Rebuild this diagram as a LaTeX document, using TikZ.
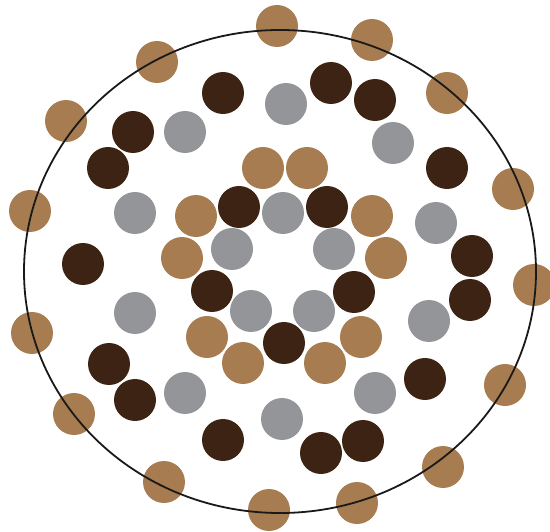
\documentclass[tikz,border=0pt]{standalone}
\usepackage{xcolor}
\usepackage{tikz}
\definecolor{tan}{HTML}{A77C50}
\definecolor{darkbrown}{HTML}{3C2314}
\definecolor{greydot}{HTML}{939598}
\begin{document}
\begin{tikzpicture}[x=1pt,y=-1pt]
\useasboundingbox (0,0) rectangle (550,532);
% tan dots
\foreach \x/\y in {277/26,372/40,157/62,447/93,66/121,513/189,30/211,534/285,
  32/333,505/385,74/414,443/467,164/482,269/510,357/503,
  263/168,307/168,196/216,372/216,182/258,386/258,207/337,361/337,243/363,325/363}
  \fill[tan] (\x,\y) circle (21);
% dark dots
\foreach \x/\y in {223/93,331/83,375/100,133/132,108/168,447/168,83/264,472/256,
  470/300,109/364,135/400,425/379,223/440,321/453,363/441,
  239/207,327/207,212/291,354/292,284/343}
  \fill[darkbrown] (\x,\y) circle (21);
% grey dots
\foreach \x/\y in {286/104,185/132,393/143,135/213,436/223,283/213,232/249,334/249,
  251/311,314/311,135/313,429/321,185/393,375/393,282/419}
  \fill[greydot] (\x,\y) circle (21);
\draw[line width=1.8pt,color=black!90] (280,271.5) ellipse (256 and 241.5);
\end{tikzpicture}
\end{document}
